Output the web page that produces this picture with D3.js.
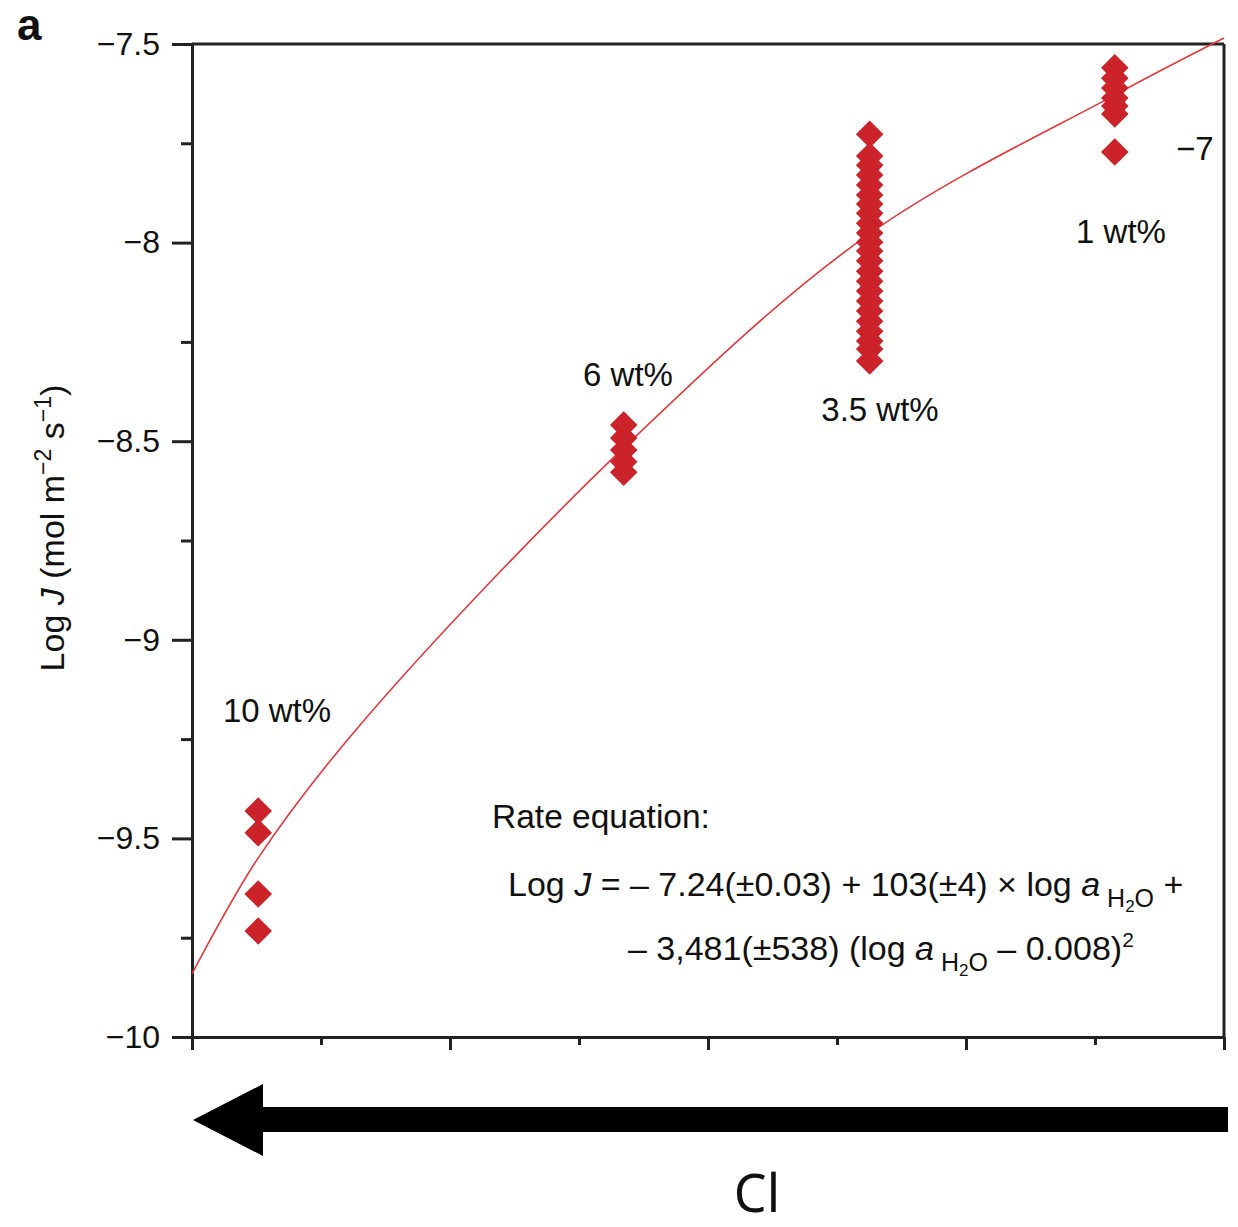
<!DOCTYPE html>
<html>
<head>
<meta charset="utf-8">
<script src="https://cdn.jsdelivr.net/npm/d3@7"></script>
<style>
  body { margin: 0; background: #fff; }
  text { font-family: "Liberation Sans", Arial, sans-serif; fill: #111; }
</style>
</head>
<body>
<div id="chart"></div>
<script>
// size
var chartWidth  = 1238;
var chartHeight = 1227;

// data (log a_H2O on x, Log J on y)
var groupLabels = ['10 wt%', '6 wt%', '3.5 wt%', '1 wt%'];
var groupX      = [-0.01123, -0.00698, -0.00412, -0.00127];
var pts10  = [-9.431, -9.486, -9.640, -9.733];
var pts6   = [-8.459, -8.492, -8.522, -8.552, -8.578];
var pts35  = [-7.727, -7.782, -7.805, -7.830, -7.855, -7.880, -7.903, -7.926, -7.951,
              -7.976, -7.999, -8.021, -8.046, -8.072, -8.097, -8.122, -8.147, -8.172,
              -8.198, -8.223, -8.248, -8.268, -8.298];
var pts1   = [-7.560, -7.586, -7.611, -7.636, -7.656, -7.676, -7.772];
var curveX = [-0.012, -0.011245, -0.010048, -0.006982, -0.004124, -0.001266, 0];
var curveY = [-9.841, -9.554, -9.215, -8.517, -7.978, -7.628, -7.485];
var yMajor = [-7.5, -8, -8.5, -9, -9.5, -10];
var yTickLabels = ['\u22127.5', '\u22128', '\u22128.5', '\u22129', '\u22129.5', '\u221210'];
var yMinor = [-7.75, -8.25, -8.75, -9.25, -9.75];
var xMajor = [-0.012, -0.009, -0.006, -0.003, 0];
var xMinor = [-0.0105, -0.0075, -0.0045, -0.0015];

var red = '#cc2229';

var x = d3.scaleLinear().domain([-0.012, 0]).range([192, 1224]);
var y = d3.scaleLinear().domain([-10, -7.5]).range([1037, 44]);

var svg = d3.select('#chart').append('svg')
    .attr('width', chartWidth)
    .attr('height', chartHeight);

// frame top / right
svg.append('line')
    .attr('x1', x(-0.012)).attr('x2', x(0))
    .attr('y1', y(-7.5)).attr('y2', y(-7.5))
    .attr('stroke', '#222').attr('stroke-width', 3);
svg.append('line')
    .attr('x1', x(0)).attr('x2', x(0))
    .attr('y1', y(-7.5)).attr('y2', y(-10))
    .attr('stroke', '#222').attr('stroke-width', 3);

// y axis
svg.append('g').attr('transform', 'translate(' + x(-0.012) + ',0)')
    .call(d3.axisLeft(y).tickValues(yMajor).tickSize(20).tickSizeOuter(0).tickPadding(12)
        .tickFormat(function(d, i){ return yTickLabels[i]; }));
svg.append('g').attr('transform', 'translate(' + x(-0.012) + ',0)')
    .call(d3.axisLeft(y).tickValues(yMinor).tickSize(11).tickSizeOuter(0).tickFormat(''));

// x axis
svg.append('g').attr('transform', 'translate(0,' + y(-10) + ')')
    .call(d3.axisBottom(x).tickValues(xMajor).tickSize(13).tickSizeOuter(0).tickFormat(''));
svg.append('g').attr('transform', 'translate(0,' + y(-10) + ')')
    .call(d3.axisBottom(x).tickValues(xMinor).tickSize(8).tickSizeOuter(0).tickFormat(''));

svg.selectAll('.domain, .tick line').attr('stroke', '#222').attr('stroke-width', 3);
svg.selectAll('.tick text').style('font-size', '32px').style('fill', '#111')
    .style('font-family', '"Liberation Sans", Arial, sans-serif');

// fitted curve
var line = d3.line()
    .x(function(d){ return x(d[0]); })
    .y(function(d){ return y(d[1]); })
    .curve(d3.curveCatmullRom);
svg.append('path')
    .attr('d', line(d3.zip(curveX, curveY)))
    .attr('fill', 'none')
    .attr('stroke', '#e0393e')
    .attr('stroke-width', 1.6);

// diamonds
var groups = [pts10, pts6, pts35, pts1];
var points = [];
groups.forEach(function(g, gi){
    g.forEach(function(v){ points.push([groupX[gi], v]); });
});
var diamond = d3.symbol().type(d3.symbolSquare).size(380);
svg.selectAll('path.pt')
    .data(points)
    .enter()
    .append('path')
    .attr('class', 'pt')
    .attr('d', diamond)
    .attr('transform', function(d){
        return 'translate(' + x(d[0]) + ',' + y(d[1]) + ') rotate(45)';
    })
    .attr('fill', red);

// group labels
var labelPos = [[277, 722], [628, 386], [880, 421], [1121, 243]];
svg.selectAll('text.grp')
    .data(groupLabels)
    .enter()
    .append('text')
    .attr('class', 'grp')
    .attr('x', function(d, i){ return labelPos[i][0]; })
    .attr('y', function(d, i){ return labelPos[i][1]; })
    .attr('text-anchor', 'middle')
    .style('font-size', '33px')
    .text(function(d){ return d; });

svg.append('text').attr('x', 1176).attr('y', 160)
    .style('font-size', '33px').text('\u22127');

// y label
var yl = svg.append('text')
    .attr('transform', 'translate(64,528) rotate(-90)')
    .attr('text-anchor', 'middle')
    .style('font-size', '34px');
yl.append('tspan').text('Log ');
yl.append('tspan').style('font-style', 'italic').text('J');
yl.append('tspan').text(' (mol m');
yl.append('tspan').attr('dy', -13).style('font-size', '23px').text('\u22122');
yl.append('tspan').attr('dy', 13).text(' s');
yl.append('tspan').attr('dy', -13).style('font-size', '23px').text('\u22121');
yl.append('tspan').attr('dy', 13).text(')');

// rate equation
svg.append('text').attr('x', 492).attr('y', 828).style('font-size', '33.5px').text('Rate equation:');

var eq1 = svg.append('text').attr('x', 508).attr('y', 896).style('font-size', '34px');
eq1.append('tspan').text('Log ');
eq1.append('tspan').style('font-style', 'italic').text('J');
eq1.append('tspan').text(' = \u2013 7.24(\u00b10.03) + 103(\u00b14) \u00d7 log ');
eq1.append('tspan').style('font-style', 'italic').text('a');
eq1.append('tspan').attr('dy', 11).style('font-size', '25px').text(' H');
eq1.append('tspan').attr('dy', 5).style('font-size', '17px').text('2');
eq1.append('tspan').attr('dy', -5).style('font-size', '25px').text('O');
eq1.append('tspan').attr('dy', -11).text(' +');

var eq2 = svg.append('text').attr('x', 628).attr('y', 960).style('font-size', '34px');
eq2.append('tspan').text('\u2013 3,481(\u00b1538) (log ');
eq2.append('tspan').style('font-style', 'italic').text('a');
eq2.append('tspan').attr('dy', 11).style('font-size', '25px').text(' H');
eq2.append('tspan').attr('dy', 5).style('font-size', '17px').text('2');
eq2.append('tspan').attr('dy', -5).style('font-size', '25px').text('O');
eq2.append('tspan').attr('dy', -11).text(' \u2013 0.008)');
eq2.append('tspan').attr('dy', -13).style('font-size', '21px').text('2');

// panel letter
svg.append('text').attr('x', 17).attr('y', 40)
    .style('font-size', '44px').style('font-weight', 'bold').text('a');

// arrow
var arrowPts = [[1228, 1107], [263, 1107], [263, 1084], [193, 1120], [263, 1156], [263, 1132], [1228, 1132]];
svg.append('path')
    .attr('d', d3.line()(arrowPts) + 'Z')
    .attr('fill', '#000');

svg.append('text').attr('x', 757).attr('y', 1212)
    .attr('text-anchor', 'middle')
    .style('font-size', '52px')
    .style('font-family', '"Noto Sans", sans-serif')
    .text('Cl');
</script>
</body>
</html>
